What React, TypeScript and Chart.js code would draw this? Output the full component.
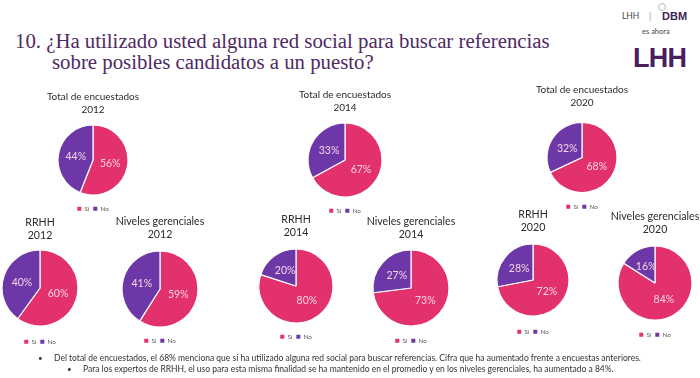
import React, { useEffect, useRef } from 'react';
import { Chart, registerables } from 'chart.js';

Chart.register(...registerables);

// ---------- data ----------
const chartTitles: string[][] = [
  ['Total de encuestados', '2012'],
  ['Total de encuestados', '2014'],
  ['Total de encuestados', '2020'],
  ['RRHH', '2012'],
  ['Niveles gerenciales', '2012'],
  ['RRHH', '2014'],
  ['Niveles gerenciales', '2014'],
  ['RRHH', '2020'],
  ['Niveles gerenciales', '2020'],
];
const answerLabels = ['Sí', 'No'];
const siValues = [56, 67, 68, 60, 59, 80, 73, 72, 84];
const noValues = [44, 33, 32, 40, 41, 20, 27, 28, 16];

const headingLines = [
  '10. ¿Ha utilizado usted alguna red social para buscar referencias',
  'sobre posibles candidatos a un puesto?',
];
const noteLines = [
  'Del total de encuestados, el 68% menciona que sí ha utilizado alguna red social para buscar referencias. Cifra que ha aumentado frente a encuestas anteriores.',
  'Para los expertos de RRHH, el uso para esta misma finalidad se ha mantenido en el promedio y en los niveles gerenciales, ha aumentado a 84%.',
];

// ---------- layout / style ----------
const PINK = '#E2316D';
const PURPLE = '#6E37A7';
const sliceColors = [PINK, PURPLE];
const FONT = 'Lato, "Open Sans", sans-serif';

// cx: pie centre x, ty: first title line centre y, cy: pie centre y, r: radius, ly: legend centre y, fs: title font size
const boxes = [
  { cx: 93, ty: 97, cy: 160, r: 35, ly: 209, fs: 10 },
  { cx: 344.5, ty: 95, cy: 160, r: 37, ly: 211, fs: 10 },
  { cx: 582, ty: 90, cy: 157.5, r: 35, ly: 207, fs: 10 },
  { cx: 40, ty: 223, cy: 288, r: 38, ly: 342, fs: 10.6 },
  { cx: 160, ty: 222, cy: 289, r: 38, ly: 341, fs: 10.6 },
  { cx: 296, ty: 220, cy: 286, r: 37, ly: 337, fs: 10.6 },
  { cx: 411, ty: 222, cy: 288, r: 38, ly: 341, fs: 10.6 },
  { cx: 533, ty: 215, cy: 280, r: 36, ly: 332, fs: 10.6 },
  { cx: 655, ty: 217, cy: 283, r: 37, ly: 335, fs: 10.6 },
];

const BOX_W = 124;
const TITLE_LH = 12.5;
const LEG_FONT = 6.3;
const LEG_PAD = 4;
const LEG_ITEM_H = 6.3;
const LEG_H = LEG_ITEM_H + LEG_PAD + 10;

const pctLabels = {
  id: 'pctLabels',
  afterDatasetsDraw(chart: any) {
    const ctx = chart.ctx;
    const meta = chart.getDatasetMeta(0);
    const data = chart.data.datasets[0].data as number[];
    ctx.save();
    ctx.font = `10.5px ${FONT}`;
    ctx.fillStyle = '#F7D3E3';
    ctx.textAlign = 'center';
    ctx.textBaseline = 'middle';
    meta.data.forEach((arc: any, i: number) => {
      const p = arc.tooltipPosition(false);
      ctx.fillText(`${data[i]}%`, p.x, p.y);
    });
    ctx.restore();
  },
};

function PieBox({ index }: { index: number }) {
  const ref = useRef<HTMLCanvasElement>(null);
  const b = boxes[index];
  const top0 = b.ty - TITLE_LH / 2;
  const T = Math.floor(top0);
  const pT = top0 - T;
  const H = Math.round(b.ly - (LEG_PAD + LEG_ITEM_H / 2) + LEG_H - T);
  const legendTop = T + H - LEG_H;
  const pB = 2 * b.cy - legendTop - (T + pT + 2 * TITLE_LH);

  useEffect(() => {
    if (!ref.current) return;
    const chart = new Chart(ref.current, {
      type: 'pie',
      data: {
        labels: answerLabels,
        datasets: [
          {
            data: [siValues[index], noValues[index]],
            backgroundColor: sliceColors,
            borderColor: '#ffffff',
            borderWidth: 1.2,
            radius: b.r,
            clip: false,
          } as any,
        ],
      },
      options: {
        responsive: false,
        animation: false,
        devicePixelRatio: 1,
        layout: { padding: 0 },
        plugins: {
          tooltip: { enabled: false },
          title: {
            display: true,
            text: chartTitles[index],
            color: '#2b2b2b',
            font: { family: FONT, size: b.fs, weight: 'normal', lineHeight: TITLE_LH / b.fs },
            padding: { top: pT, bottom: pB },
          },
          legend: {
            display: true,
            position: 'bottom',
            labels: {
              color: '#595959',
              font: { family: FONT, size: LEG_FONT },
              boxWidth: 4,
              boxHeight: 4,
              padding: LEG_PAD,
              generateLabels: (c: any) =>
                (c.data.labels as string[]).map((text, i) => ({
                  text,
                  fillStyle: sliceColors[i],
                  strokeStyle: sliceColors[i],
                  lineWidth: 0,
                  hidden: false,
                  index: i,
                  fontColor: '#595959',
                })),
            },
          },
        },
      },
      plugins: [pctLabels],
    });
    return () => chart.destroy();
  }, [index]);

  return (
    <canvas
      ref={ref}
      width={BOX_W}
      height={H}
      style={{ position: 'absolute', left: Math.round(b.cx - BOX_W / 2), top: T, width: BOX_W, height: H }}
    />
  );
}

export default function App() {
  const text = (style: React.CSSProperties, content: string, key?: string) => (
    <div key={key} style={{ position: 'absolute', whiteSpace: 'nowrap', ...style }}>
      {content}
    </div>
  );
  return (
    <div
      style={{
        position: 'absolute',
        left: 0,
        top: 0,
        width: 700,
        height: 378,
        overflow: 'hidden',
        background: '#ffffff',
      }}
    >
      {text(
        { left: 15, top: 29, fontFamily: '"Liberation Serif", serif', fontSize: 20.8, lineHeight: '24px', color: '#4E2A63' },
        headingLines[0]
      )}
      {text(
        { left: 52, top: 50, fontFamily: '"Liberation Serif", serif', fontSize: 20.8, lineHeight: '24px', color: '#4E2A63' },
        headingLines[1]
      )}

      {/* logo */}
      {text({ left: 622, top: 11, fontFamily: FONT, fontSize: 8.5, lineHeight: '10px', color: '#444' }, 'LHH')}
      {text({ left: 649, top: 10, fontFamily: FONT, fontSize: 9, lineHeight: '11px', color: '#999' }, '|')}
      <div
        style={{
          position: 'absolute',
          left: 658,
          top: 3,
          width: 8,
          height: 8,
          borderRadius: '50%',
          border: '1px solid #bbb',
          boxSizing: 'border-box',
        }}
      />
      {text(
        { left: 662, top: 10, fontFamily: '"Liberation Sans", sans-serif', fontWeight: 'bold', fontSize: 11, lineHeight: '12px', color: '#3E2450' },
        'DBM'
      )}
      {text({ left: 642, top: 27, fontFamily: FONT, fontSize: 7.5, lineHeight: '10px', color: '#444' }, 'es ahora')}
      {text(
        { left: 633, top: 42, fontFamily: '"Liberation Sans", sans-serif', fontWeight: 'bold', fontSize: 27, lineHeight: '32px', color: '#4A1D5E', letterSpacing: '-0.8px' },
        'LHH'
      )}

      {boxes.map((_, i) => (
        <PieBox key={i} index={i} />
      ))}

      {/* notes */}
      {text({ left: 38, top: 353, fontFamily: FONT, fontSize: 8, lineHeight: '10px', color: '#333' }, '•')}
      {text({ left: 54, top: 353, fontFamily: FONT, fontSize: 8.5, lineHeight: '10px', color: '#333' }, noteLines[0])}
      {text({ left: 67, top: 364, fontFamily: FONT, fontSize: 8, lineHeight: '10px', color: '#333' }, '•')}
      {text({ left: 83, top: 364, fontFamily: FONT, fontSize: 8.5, lineHeight: '10px', color: '#333' }, noteLines[1])}
    </div>
  );
}
